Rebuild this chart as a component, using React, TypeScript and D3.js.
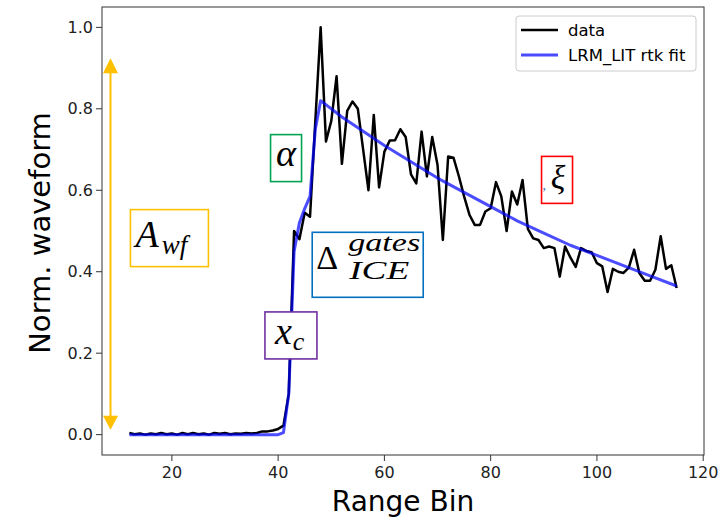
import React from "react";
import * as d3 from "d3";

// range bins 12..115
const bins = d3.range(12, 116);

// normalised waveform
const waveform = [
  0.004, 0.001, 0.003, 0.0, 0.003, 0.001, 0.004, 0.001, 0.003, 0.0,
  0.004, 0.001, 0.004, 0.001, 0.003, 0.0, 0.004, 0.002, 0.004, 0.001,
  0.003, 0.002, 0.004, 0.003, 0.004, 0.008, 0.008, 0.01, 0.014, 0.022,
  0.1, 0.5, 0.48, 0.545, 0.535, 0.77, 1.0, 0.72, 0.77, 0.88,
  0.665, 0.795, 0.818, 0.8, 0.7, 0.6, 0.785, 0.607, 0.695, 0.722,
  0.723, 0.75, 0.731, 0.639, 0.617, 0.744, 0.634, 0.731, 0.662, 0.478,
  0.683, 0.68, 0.635, 0.585, 0.54, 0.515, 0.515, 0.548, 0.556, 0.62,
  0.585, 0.5, 0.597, 0.565, 0.625, 0.505, 0.482, 0.478, 0.458, 0.462,
  0.458, 0.388, 0.462, 0.435, 0.412, 0.458, 0.451, 0.448, 0.421, 0.413,
  0.35, 0.407, 0.4, 0.397, 0.41, 0.454, 0.396, 0.378, 0.378, 0.405,
  0.487, 0.407, 0.416, 0.36,
];

// LRM_LIT rtk fit, read at a subset of bins
const fitBins = [12, 40, 41, 42, 43, 44, 45, 46, 47, 48, 52, 56, 60, 65, 70, 75, 80, 85, 90, 95, 100, 105, 110, 115];
const fitValues = [0, 0, 0.005, 0.1, 0.45, 0.52, 0.555, 0.585, 0.75, 0.82, 0.78, 0.745, 0.71, 0.67, 0.63, 0.595, 0.56, 0.525, 0.495, 0.465, 0.44, 0.415, 0.39, 0.365];

const xTicks = [20, 40, 60, 80, 100, 120];
const yTicks = [0, 0.2, 0.4, 0.6, 0.8, 1.0];

const W = 721;
const H = 521;
const m = { left: 102, right: 17, top: 7, bottom: 66 };

const sans = "DejaVu Sans, sans-serif";
const serif = "Liberation Serif, DejaVu Serif, serif";

export default function App() {
  const x = d3.scaleLinear().domain([6.85, 120.15]).range([m.left, W - m.right]);
  const y = d3.scaleLinear().domain([-0.05, 1.05]).range([H - m.bottom, m.top]);

  const line = d3
    .line<[number, number]>()
    .x((d) => x(d[0]))
    .y((d) => y(d[1]));

  const dataPath = line(bins.map((b, i) => [b, waveform[i]]));
  const fitPath = line(fitBins.map((b, i) => [b, fitValues[i]]));

  const x0 = m.left;
  const x1 = W - m.right;
  const y0 = H - m.bottom;
  const y1 = m.top;

  // annotation boxes, anchored at data coords
  const box = (cx: number, cy: number, w: number, h: number) => ({
    x: x(cx) - w / 2,
    y: y(cy) - h / 2,
    w,
    h,
  });
  const aBox = box(19.54, 0.4825, 78, 57);
  const alBox = box(41.49, 0.679, 31, 47);
  const xcBox = box(42.41, 0.2436, 52, 47);
  const dBox = box(56.86, 0.417, 111, 65);
  const xiBox = box(92.49, 0.6255, 31, 47);

  const arrowX = x(8.45);
  const arrowTop = y(0.924);
  const arrowBot = y(0.012);
  const gold = "#ffc000";

  return (
    <div style={{ position: "fixed", left: 0, top: 0 }}>
      <svg width={W} height={H} style={{ display: "block", background: "#fff" }}>
        {/* lines */}
        <path d={dataPath ?? ""} fill="none" stroke="#000" strokeWidth={2.5} strokeLinejoin="round" />
        <path d={fitPath ?? ""} fill="none" stroke="#0000ff" strokeOpacity={0.7} strokeWidth={3} strokeLinejoin="round" />

        {/* amplitude arrow */}
        <line x1={arrowX} x2={arrowX} y1={arrowTop + 10} y2={arrowBot - 10} stroke={gold} strokeWidth={2} />
        <path d={`M${arrowX},${arrowTop} L${arrowX - 7.5},${arrowTop + 15} L${arrowX + 7.5},${arrowTop + 15} Z`} fill={gold} />
        <path d={`M${arrowX},${arrowBot} L${arrowX - 7.5},${arrowBot - 14} L${arrowX + 7.5},${arrowBot - 14} Z`} fill={gold} />

        {/* A_wf */}
        <rect x={aBox.x} y={aBox.y} width={aBox.w} height={aBox.h} fill="#fff" stroke={gold} strokeWidth={1.6} />
        <text x={aBox.x + 5} y={aBox.y + 37} fontFamily={serif} fontStyle="italic" fontSize={38} fill="#000">
          A
          <tspan dy={7} fontSize={27} dx={3}>wf</tspan>
        </text>

        {/* alpha */}
        <rect x={alBox.x} y={alBox.y} width={alBox.w} height={alBox.h} fill="#fff" stroke="#00a550" strokeWidth={1.6} />
        <text x={alBox.x + alBox.w / 2} y={alBox.y + 31} textAnchor="middle" fontFamily={serif} fontStyle="italic" fontSize={38} fill="#000">
          α
        </text>

        {/* x_c */}
        <rect x={xcBox.x} y={xcBox.y} width={xcBox.w} height={xcBox.h} fill="#fff" stroke="#7030a0" strokeWidth={1.6} />
        <text x={xcBox.x + 10} y={xcBox.y + 32} fontFamily={serif} fontStyle="italic" fontSize={38} fill="#000">
          x
          <tspan dy={6} fontSize={26} dx={1}>c</tspan>
        </text>

        {/* Delta */}
        <rect x={dBox.x} y={dBox.y} width={dBox.w} height={dBox.h} fill="#fff" stroke="#0070c0" strokeWidth={1.6} />
        <text x={dBox.x + 4} y={dBox.y + 37} fontFamily={serif} fontSize={34} fill="#000">Δ</text>
        <text x={dBox.x + 36} y={dBox.y + 19} fontFamily={serif} fontStyle="italic" fontSize={25} textLength={72} lengthAdjust="spacingAndGlyphs" fill="#000">
          gates
        </text>
        <text x={dBox.x + 37} y={dBox.y + 47} fontFamily={serif} fontStyle="italic" fontSize={25} textLength={60} lengthAdjust="spacingAndGlyphs" fill="#000">
          ICE
        </text>

        {/* xi */}
        <rect x={xiBox.x} y={xiBox.y} width={xiBox.w} height={xiBox.h} fill="#fff" stroke="#ff0000" strokeWidth={1.6} />
        <text x={xiBox.x + 1} y={xiBox.y + 34} fontFamily={serif} fontSize={14} fill="#4a6fa5">,</text>
        <text x={xiBox.x + xiBox.w / 2 + 1} y={xiBox.y + 33} textAnchor="middle" fontFamily={serif} fontStyle="italic" fontSize={34} fill="#000">
          ξ
        </text>

        {/* frame */}
        <rect x={x0} y={y1} width={x1 - x0} height={y0 - y1} fill="none" stroke="#333" strokeWidth={1} />

        {/* x axis */}
        {xTicks.map((t) => (
          <g key={t} transform={`translate(${x(t)},${y0})`}>
            <line y2={6} stroke="#333" />
            <text y={23} textAnchor="middle" fontFamily={sans} fontSize={16} fill="#222">{t}</text>
          </g>
        ))}
        <text x={(x0 + x1) / 2} y={511} textAnchor="middle" fontFamily={sans} fontSize={28} fill="#000">Range Bin</text>

        {/* y axis */}
        {yTicks.map((t) => (
          <g key={t} transform={`translate(${x0},${y(t)})`}>
            <line x2={-6} stroke="#333" />
            <text x={-9} dy="0.35em" textAnchor="end" fontFamily={sans} fontSize={16} fill="#222">{d3.format(".1f")(t)}</text>
          </g>
        ))}
        <text transform={`translate(50,${(y0 + y1) / 2 + 2}) rotate(-90)`} textAnchor="middle" fontFamily={sans} fontSize={29} fill="#000">
          Norm. waveform
        </text>

        {/* legend */}
        <g transform={`translate(${x1 - 188},${y1 + 9})`}>
          <rect width={180} height={55} rx={3} fill="#fff" fillOpacity={0.8} stroke="#ccc" />
          <line x1={5} x2={42} y1={14} y2={14} stroke="#000" strokeWidth={2.5} />
          <text x={52} y={20} fontFamily={sans} fontSize={16.5} fill="#000">data</text>
          <line x1={5} x2={42} y1={39} y2={39} stroke="#0000ff" strokeOpacity={0.7} strokeWidth={3} />
          <text x={52} y={45} fontFamily={sans} fontSize={16.5} fill="#000">LRM_LIT rtk fit</text>
        </g>
      </svg>
    </div>
  );
}
